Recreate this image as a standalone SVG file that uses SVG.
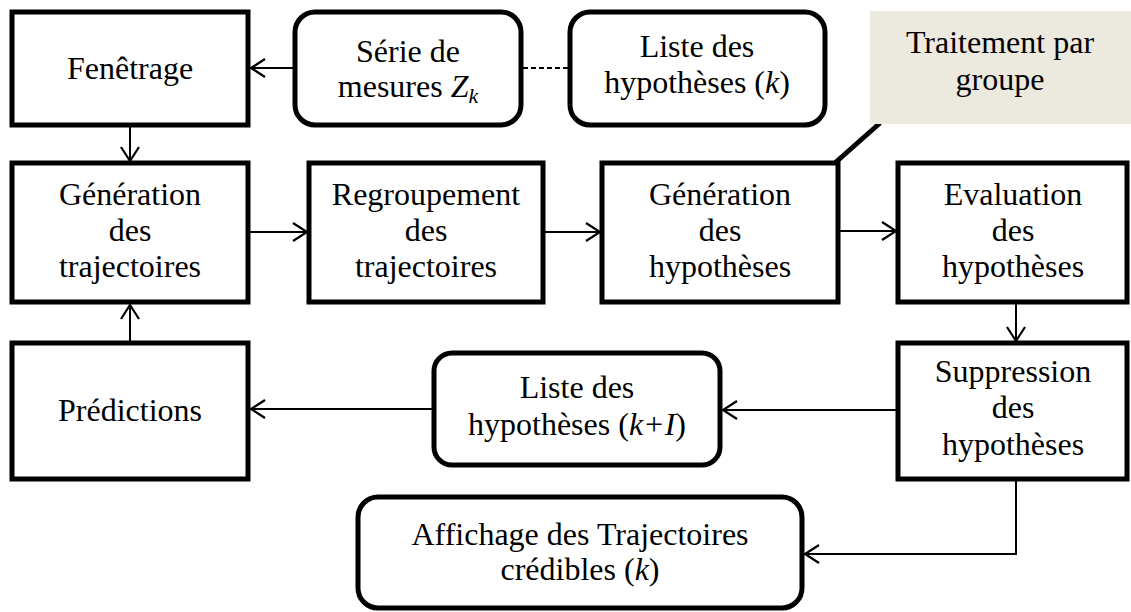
<svg xmlns="http://www.w3.org/2000/svg" width="1131" height="612" viewBox="0 0 1131 612">
<style>
.box{fill:#fff;stroke:#000;stroke-width:5}
.rbox{fill:#fff;stroke:#000;stroke-width:5}
.note{fill:#ECE9DF;stroke:none}
.t{font-family:"Liberation Serif","Times New Roman",serif;font-size:32px;fill:#000;text-anchor:middle}
.i{font-style:italic}
.c{fill:none;stroke:#000;stroke-width:2}
</style>
<defs>
<marker id="ah" markerUnits="userSpaceOnUse" markerWidth="20" markerHeight="20" viewBox="0 0 20 20" refX="16" refY="10" orient="auto">
<path d="M2,1 L16,10 L2,19" fill="none" stroke="#000" stroke-width="2.2"/>
</marker>
</defs>
<rect width="1131" height="612" fill="#fff"/>
<g id="connectors">
<line class="c" x1="293" y1="68" x2="251" y2="68" marker-end="url(#ah)"/>
<line class="c" x1="523" y1="68" x2="568" y2="68" stroke-dasharray="5,3"/>
<line class="c" x1="130" y1="127" x2="130" y2="161" marker-end="url(#ah)"/>
<line class="c" x1="250" y1="232" x2="307" y2="232" marker-end="url(#ah)"/>
<line class="c" x1="545" y1="232" x2="600" y2="232" marker-end="url(#ah)"/>
<line class="c" x1="840" y1="231" x2="896" y2="231" marker-end="url(#ah)"/>
<line class="c" x1="1016" y1="304" x2="1016" y2="341" marker-end="url(#ah)"/>
<line class="c" x1="896" y1="410" x2="723" y2="410" marker-end="url(#ah)"/>
<line class="c" x1="432" y1="409" x2="251" y2="409" marker-end="url(#ah)"/>
<line class="c" x1="130" y1="341" x2="130" y2="305" marker-end="url(#ah)"/>
<polyline class="c" points="1016,481 1016,554 805,554" marker-end="url(#ah)"/>
<line x1="880" y1="123" x2="827" y2="170" stroke="#000" stroke-width="5"/>
</g>
<g id="fenetrage">
<rect class="box" x="12" y="12" width="236" height="113"/>
<text class="t" x="130" y="79">Fenêtrage</text>
</g>
<g id="serie">
<rect class="rbox" x="295" y="12" width="226" height="113" rx="20"/>
<text class="t" x="408" y="62">Série de</text>
<text class="t" x="408" y="97">mesures <tspan class="i">Z</tspan><tspan class="i" font-size="22" dy="6">k</tspan></text>
</g>
<g id="liste-k">
<rect class="rbox" x="570" y="12" width="255" height="113" rx="20"/>
<text class="t" x="697" y="57">Liste des</text>
<text class="t" x="697" y="93">hypothèses (<tspan class="i">k</tspan>)</text>
</g>
<g id="traitement">
<rect class="note" x="870" y="11" width="261" height="113"/>
<text class="t" x="1000" y="53">Traitement par</text>
<text class="t" x="1000" y="90">groupe</text>
</g>
<g id="gen-traj">
<rect class="box" x="12" y="163" width="236" height="139"/>
<text class="t" x="130" y="205">Génération</text>
<text class="t" x="130" y="241">des</text>
<text class="t" x="130" y="277">trajectoires</text>
</g>
<g id="regroupement">
<rect class="box" x="309" y="163" width="234" height="139"/>
<text class="t" x="426" y="205">Regroupement</text>
<text class="t" x="426" y="241">des</text>
<text class="t" x="426" y="277">trajectoires</text>
</g>
<g id="gen-hyp">
<rect class="box" x="602" y="163" width="236" height="139"/>
<text class="t" x="720" y="205">Génération</text>
<text class="t" x="720" y="241">des</text>
<text class="t" x="720" y="277">hypothèses</text>
</g>
<g id="evaluation">
<rect class="box" x="898" y="163" width="229" height="139"/>
<text class="t" x="1013" y="205">Evaluation</text>
<text class="t" x="1013" y="241">des</text>
<text class="t" x="1013" y="277">hypothèses</text>
</g>
<g id="predictions">
<rect class="box" x="12" y="343" width="236" height="136"/>
<text class="t" x="130" y="421">Prédictions</text>
</g>
<g id="liste-k1">
<rect class="rbox" x="434" y="353" width="286" height="112" rx="18"/>
<text class="t" x="577" y="398">Liste des</text>
<text class="t" x="577" y="435">hypothèses (<tspan class="i">k+I</tspan>)</text>
</g>
<g id="suppression">
<rect class="box" x="898" y="343" width="229" height="136"/>
<text class="t" x="1013" y="382">Suppression</text>
<text class="t" x="1013" y="418">des</text>
<text class="t" x="1013" y="455">hypothèses</text>
</g>
<g id="affichage">
<rect class="rbox" x="358" y="497" width="444" height="111" rx="20"/>
<text class="t" x="580" y="545">Affichage des Trajectoires</text>
<text class="t" x="580" y="580">crédibles (<tspan class="i">k</tspan>)</text>
</g>
</svg>
